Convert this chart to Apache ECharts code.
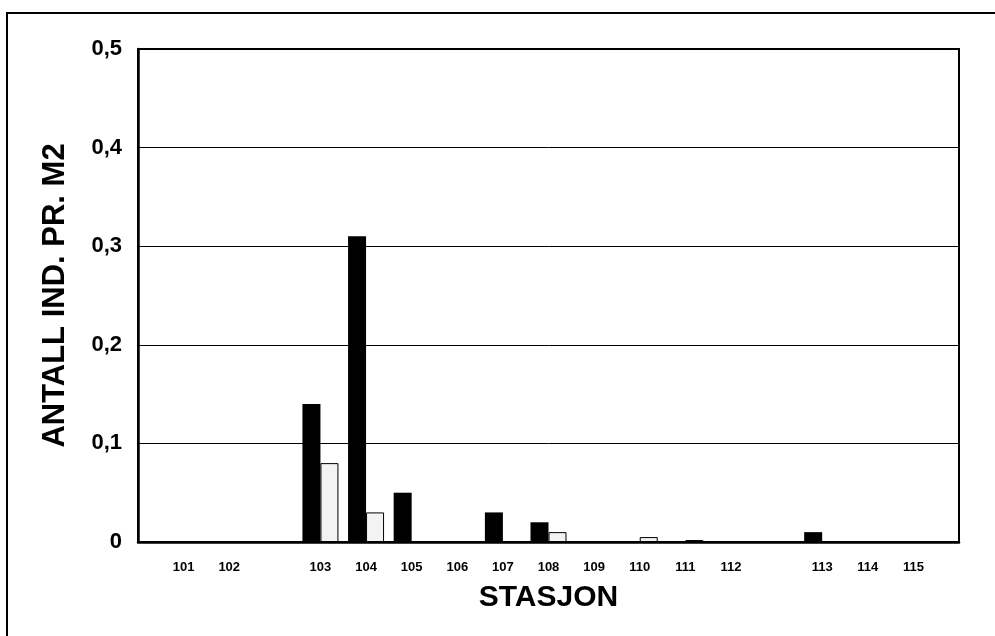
<!DOCTYPE html>
<html>
<head>
<meta charset="utf-8">
<script src="https://cdn.jsdelivr.net/npm/echarts@6/dist/echarts.min.js"></script>
<style>
html,body{margin:0;padding:0;background:#fff;}
#chart{width:995px;height:636px;}
</style>
</head>
<body>
<div id="chart"></div>
<script>
// Stations (blank entries are gaps in the original axis; first/last are end padding)
const categories = ['', '101', '102', '', '103', '104', '105', '106', '107', '108', '109', '110', '111', '112', '', '113', '114', '115', ''];
const seriesBlack = [null, 0, 0, null, 0.14, 0.31, 0.05, 0, 0.03, 0.02, 0, 0, 0, 0, null, 0.01, 0, 0, null];
const seriesWhite = [null, 0, 0, null, 0.08, 0.03, 0, 0, 0, 0.01, 0, 0.005, 0.002, 0, null, 0, 0, 0, null];
const yTicks = ['0', '0,1', '0,2', '0,3', '0,4', '0,5'];

const chart = echarts.init(document.getElementById('chart'));
const fontFamily = '"Liberation Sans", Arial, sans-serif';

chart.setOption({
  animation: false,
  backgroundColor: '#fff',
  graphic: [{
    type: 'rect',
    shape: { x: 7, y: 13, width: 1100, height: 800 },
    style: { fill: 'none', stroke: '#000', lineWidth: 2 },
    silent: true
  }],
  grid: {
    left: 138, top: 49, right: 36, bottom: 94,
    show: true, borderColor: '#000', borderWidth: 2, backgroundColor: 'transparent'
  },
  xAxis: {
    type: 'category',
    data: categories,
    boundaryGap: false,
    axisLine: { lineStyle: { color: '#000', width: 2.5 } },
    axisTick: { show: false },
    axisLabel: { color: '#000', fontFamily, fontWeight: 'bold', fontSize: 13, margin: 19, interval: 0 },
    splitLine: { show: false },
    name: 'STASJON',
    nameLocation: 'middle',
    nameGap: 41,
    nameTextStyle: { color: '#000', fontFamily, fontWeight: 'bold', fontSize: 30 }
  },
  yAxis: {
    type: 'value',
    min: 0, max: 0.5, interval: 0.1,
    axisLine: { show: true, lineStyle: { color: '#000', width: 2.5 } },
    axisTick: { show: false },
    axisLabel: {
      color: '#000', fontFamily, fontWeight: 'bold', fontSize: 22, margin: 16,
      formatter: v => yTicks[Math.round(v * 10)]
    },
    splitLine: { show: true, lineStyle: { color: '#000', width: 1 } },
    name: 'ANTALL IND. PR. M2',
    nameLocation: 'middle',
    nameGap: 67,
    nameRotate: 90,
    nameTextStyle: { color: '#000', fontFamily, fontWeight: 'bold', fontSize: 31 }
  },
  series: [
    {
      type: 'bar',
      data: seriesBlack,
      barWidth: 18,
      barGap: '0%',
      itemStyle: { color: '#000' }
    },
    {
      type: 'bar',
      data: seriesWhite,
      barWidth: 18,
      itemStyle: { color: '#f3f3f3', borderColor: '#000', borderWidth: 1 }
    }
  ]
});
</script>
</body>
</html>
